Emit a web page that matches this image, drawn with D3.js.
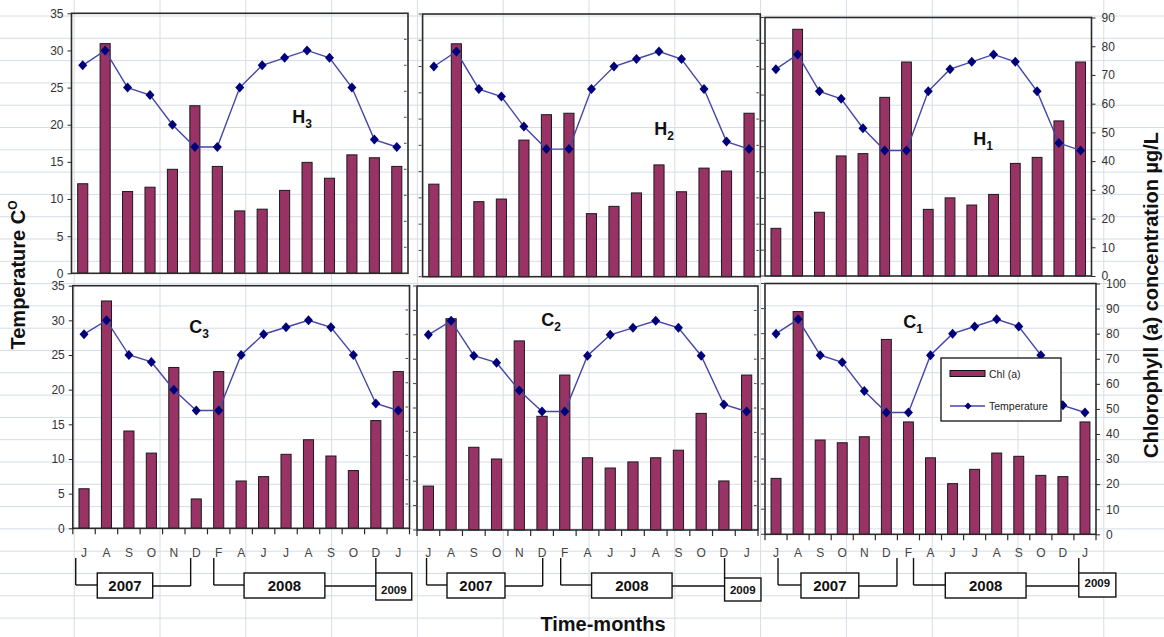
<!DOCTYPE html>
<html><head><meta charset="utf-8">
<script src="https://cdnjs.cloudflare.com/ajax/libs/d3/7.8.5/d3.min.js"></script>
<style>body{margin:0;background:#fff}svg{display:block;font-family:"Liberation Sans",Arial,sans-serif}</style>
</head><body><svg id="c" width="1164" height="637"></svg>
<script>
// ---------------- data ----------------
const months = ["J","A","S","O","N","D","F","A","J","J","A","S","O","D","J"];
const temperature = [28,30,25,24,20,17,17,25,28,29,30,29,25,18,17];
const chlH3 = [31,79.5,28.3,29.8,36,58,37,21.6,22.2,28.7,38.4,32.9,41,40,37];
const chlH2 = [31.7,79.8,25.7,26.6,46.8,55.5,56,21.6,24.1,28.7,38.3,29.1,37.2,36.2,56];
const chlH1 = [16.6,85.9,22.2,41.8,42.6,62.2,74.5,23.2,27.2,24.7,28.4,39.2,41.3,54,74.5];
const chlC3 = [16.3,93.7,40.1,31,66.3,12.1,64.6,19.5,21.3,30.5,36.5,29.8,23.8,44.4,64.6];
const chlC2 = [18,86.6,33.9,29.1,77.5,46.6,63.5,29.6,25.4,27.9,29.6,32.7,47.8,20.1,63.5];
const chlC1 = [22.3,88.8,37.6,36.5,38.9,77.7,44.8,30.5,20.2,25.9,32.4,31.1,23.5,23,44.8];
const tempTicks = [0,5,10,15,20,25,30,35];
const chlTicksTop = [0,10,20,30,40,50,60,70,80,90];
const chlTicksBottom = [0,10,20,30,40,50,60,70,80,90,100];
const years = ["2007","2008","2009"];
const siteNames = ["H","H","H","C","C","C"];
const siteNums = ["3","2","1","3","2","1"];

// ---------------- layout ----------------
const svg = d3.select("#c");
const W = 1164, H = 637;
const panels = [
  {name:0, chl:chlH3, chlMax:90, x0:71.5, x1:408,  y0:13.3, y1:273.3, leftLab:true,  rightLab:false, months:false, lab:[302,123]},
  {name:1, chl:chlH2, chlMax:90, x0:422.6,x1:760.3,y0:14,   y1:276.7, leftLab:false, rightLab:false, months:false, lab:[664,135]},
  {name:2, chl:chlH1, chlMax:90, x0:765,  x1:1091.5,y0:17.5,y1:276,   leftLab:false, rightLab:true,  months:false, lab:[983,145], rticks:chlTicksTop},
  {name:3, chl:chlC3, chlMax:100,x0:72.8, x1:409.5,y0:285.7,y1:528.3, leftLab:true,  rightLab:false, months:true, lab:[199,333],
     br:{j:0.13,b7:[1.09,3.56],d:5.25,f:6.28,b8:[7.63,11.23],b9:[13.5,15.1],b9y:[573,600]}},
  {name:4, chl:chlC2, chlMax:100,x0:417,  x1:758,  y0:286,  y1:530,   leftLab:false, rightLab:false, months:true, lab:[551,326],
     br:{j:0.42,b7:[1.32,3.87],d:5.53,f:6.32,b8:[7.68,11.22],b9:[13.53,15.13],b9y:[578,601]}},
  {name:5, chl:chlC1, chlMax:100,x0:765,  x1:1096, y0:283.5,y1:534.3, leftLab:false, rightLab:true,  months:true, lab:[913,328], rticks:chlTicksBottom,
     br:{j:0.59,b7:[1.63,4.25],d:5.98,f:6.73,b8:[8.17,11.83],b9:[14.22,15.9],b9y:[573,597]}}
];

// spreadsheet grid background
const gridG = svg.append("g");
for (let y = 16 - 22.3; y < H; y += 22.3)
  gridG.append("line").attr("x1",0).attr("x2",W).attr("y1",y).attr("y2",y).attr("stroke","#d6dde7").attr("stroke-width",1);
for (let x = 74.2 - 85.8; x < W; x += 85.8)
  gridG.append("line").attr("x1",x).attr("x2",x).attr("y1",0).attr("y2",H).attr("stroke","#d6dde7").attr("stroke-width",1);

const BAR = "#993366", LINE = "#4646a8", MARK = "#00007a", FRAME = "#2a2a2a";
const idx = d3.range(months.length);

panels.forEach(p => {
  const g = svg.append("g");
  const x = d3.scaleBand().domain(idx).range([p.x0, p.x1]).paddingInner(0.55).paddingOuter(0.275);
  const yT = d3.scaleLinear().domain([0,35]).range([p.y1, p.y0]);
  const yC = d3.scaleLinear().domain([0,p.chlMax]).range([p.y1, p.y0]);
  const cx = i => x(i) + x.bandwidth()/2;

  // bars
  g.selectAll("rect.bar").data(p.chl).join("rect").attr("class","bar")
    .attr("x",(d,i)=>x(i)).attr("width",x.bandwidth())
    .attr("y",d=>yC(d)).attr("height",d=>yC(0)-yC(d))
    .attr("fill",BAR).attr("stroke","#1a1a1a").attr("stroke-width",1);

  // temperature line
  const line = d3.line().x((d,i)=>cx(i)).y(d=>yT(d));
  g.append("path").datum(temperature).attr("d",line).attr("fill","none").attr("stroke",LINE).attr("stroke-width",1.4);
  g.selectAll("path.mk").data(temperature).join("path").attr("class","mk")
    .attr("d",(d,i)=>{const X=cx(i),Y=yT(d);return `M${X},${Y-5}L${X+4.5},${Y}L${X},${Y+5}L${X-4.5},${Y}Z`;})
    .attr("fill",MARK);

  // frame
  g.append("rect").attr("x",p.x0).attr("y",p.y0).attr("width",p.x1-p.x0).attr("height",p.y1-p.y0)
    .attr("fill","none").attr("stroke",FRAME).attr("stroke-width",1.6);

  // left axis
  if (p.leftLab) {
    const ax = d3.axisLeft(yT).tickValues(tempTicks).tickSize(4).tickPadding(4);
    const a = g.append("g").attr("transform",`translate(${p.x0},0)`).call(ax);
    a.select(".domain").remove();
    a.selectAll("line").attr("stroke",FRAME);
    a.selectAll("text").attr("font-size",12).attr("fill","#333").attr("font-family","Liberation Sans, Arial");
  } else {
    d3.range(11).forEach(k => {
      const yy = p.y1 - (p.y1-p.y0)*k/10;
      g.append("line").attr("x1",p.x0-4).attr("x2",p.x0-1).attr("y1",yy).attr("y2",yy).attr("stroke","#444").attr("stroke-width",1);
    });
  }
  // right axis
  if (p.rightLab) {
    const ax = d3.axisRight(yC).tickValues(p.rticks).tickSize(4).tickPadding(6);
    const a = g.append("g").attr("transform",`translate(${p.x1},0)`).call(ax);
    a.select(".domain").remove();
    a.selectAll("line").attr("stroke",FRAME);
    a.selectAll("text").attr("font-size",12).attr("fill","#333").attr("font-family","Liberation Sans, Arial");
  } else {
    d3.range(11).forEach(k => {
      const yy = p.y1 - (p.y1-p.y0)*k/10;
      g.append("line").attr("x1",p.x1-4).attr("x2",p.x1-1.5).attr("y1",yy).attr("y2",yy).attr("stroke","#444").attr("stroke-width",1);
    });
  }

  // site label
  const t = g.append("text").attr("x",p.lab[0]).attr("y",p.lab[1]).attr("text-anchor","middle")
    .attr("font-size",18).attr("font-weight","bold").attr("fill","#111");
  t.append("tspan").text(siteNames[p.name]);
  t.append("tspan").attr("dy",5).attr("font-size",12).text(siteNums[p.name]);

  if (p.months) {
    // x axis ticks at band boundaries
    const step = x.step();
    d3.range(16).forEach(k => {
      const xx = p.x0 + step*k;
      g.append("line").attr("x1",xx).attr("x2",xx).attr("y1",p.y1).attr("y2",p.y1+6).attr("stroke",FRAME).attr("stroke-width",1.2);
    });
    g.selectAll("text.m").data(months).join("text").attr("class","m")
      .attr("x",(d,i)=>cx(i)).attr("y",557).attr("text-anchor","middle")
      .attr("font-size",12).attr("fill","#444").text(d=>d);

    // year brackets
    const b = p.br;
    const bx = u => p.x0 + step*u;
    const top = 558, hy = 585, by0 = 573, by1 = 598;
    const ln = (x1,y1,x2,y2) => g.append("line").attr("x1",x1).attr("y1",y1).attr("x2",x2).attr("y2",y2).attr("stroke","#111").attr("stroke-width",1.4);
    ln(bx(b.j),top,bx(b.j),hy); ln(bx(b.j),hy,bx(b.b7[0]),hy);
    ln(bx(b.b7[1]),hy+1,bx(b.d),hy+1); ln(bx(b.d),top,bx(b.d),hy+1);
    ln(bx(b.f),top,bx(b.f),hy); ln(bx(b.f),hy,bx(b.b8[0]),hy);
    ln(bx(b.b8[1]),hy+1,bx(b.b9[0]),hy+1); ln(bx(b.b9[0]),top,bx(b.b9[0]),b.b9y[0]);
    const box = (u0,u1,y0,y1,txt,fs,ty) => {
      g.append("rect").attr("x",bx(u0)).attr("y",y0).attr("width",bx(u1)-bx(u0)).attr("height",y1-y0)
        .attr("fill","#fff").attr("stroke","#111").attr("stroke-width",1.4);
      g.append("text").attr("x",(bx(u0)+bx(u1))/2).attr("y",ty).attr("text-anchor","middle")
        .attr("font-size",fs).attr("font-weight","bold").attr("fill","#111").text(txt);
    };
    box(b.b7[0],b.b7[1],by0,by1,years[0],15,591);
    box(b.b8[0],b.b8[1],by0,by1,years[1],15,591);
    box(b.b9[0],b.b9[1],b.b9y[0],b.b9y[1],years[2],11.5,p.name===5?587:594);
  }
});

// legend (in C1)
const lg = svg.append("g");
lg.append("rect").attr("x",941).attr("y",358).attr("width",120).attr("height",63).attr("fill","#fff").attr("stroke","#111").attr("stroke-width",1.3);
lg.append("rect").attr("x",950).attr("y",370.5).attr("width",35).attr("height",6).attr("fill",BAR).attr("stroke","#111").attr("stroke-width",1);
lg.append("text").attr("x",989).attr("y",378).attr("font-size",10.5).attr("fill","#222").text("Chl (a)");
lg.append("line").attr("x1",950).attr("x2",985).attr("y1",406).attr("y2",406).attr("stroke",LINE).attr("stroke-width",1.4);
lg.append("path").attr("d","M968,402.5L971.5,406L968,409.5L964.5,406Z").attr("fill",MARK);
lg.append("text").attr("x",989).attr("y",410).attr("font-size",10.5).attr("fill","#222").text("Temperature");

// axis titles
const tt = svg.append("text").attr("transform","translate(25,275) rotate(-90)").attr("text-anchor","middle")
  .attr("font-size",20).attr("font-weight","bold").attr("fill","#111");
tt.append("tspan").text("Temperature C");
tt.append("tspan").attr("dy",-8).attr("font-size",12).text("O");
svg.append("text").attr("transform","translate(1158,295) rotate(-90)").attr("text-anchor","middle")
  .attr("font-size",20).attr("font-weight","bold").attr("fill","#111").text("Chlorophyll (a) concentration µg/L");
svg.append("text").attr("x",603).attr("y",631).attr("text-anchor","middle")
  .attr("font-size",20).attr("font-weight","bold").attr("fill","#111").text("Time-months");
</script></body></html>
